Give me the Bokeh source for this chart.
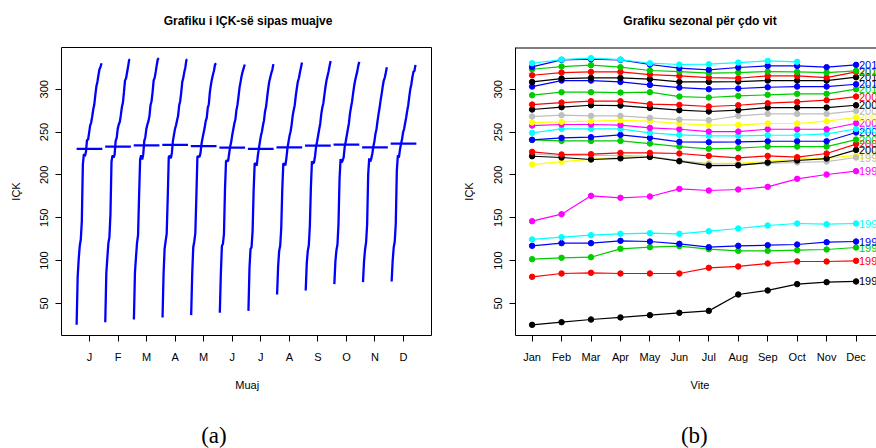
import math
from bokeh.plotting import figure
from bokeh.layouts import row, column
from bokeh.models import FixedTicker, Range1d, Span, ColumnDataSource
from bokeh.embed import file_html
from bokeh.resources import INLINE
from bokeh.core.properties import value

# ---------------- data (IÇK, monthly, 1992 - Oct 2016) ----------------
month_names = ["Jan", "Feb", "Mar", "Apr", "May", "Jun", "Jul", "Aug", "Sep", "Oct", "Nov", "Dec"]
month_letters = ["J", "F", "M", "A", "M", "J", "J", "A", "S", "O", "N", "D"]
years = list(range(1992, 2017))

cpi_1992 = [25.1, 28.2, 31.3, 33.7, 36.4, 39.1, 41.4, 60.5, 65.2, 72.6, 74.9, 75.7]
cpi_1993 = [81.1, 85.0, 85.8, 85.0, 85.0, 85.0, 91.6, 93.2, 96.7, 99.0, 99.0, 99.8]
cpi_1994 = [101.7, 103.3, 104.0, 113.8, 115.7, 116.9, 113.4, 111.4, 111.4, 112.2, 113.0, 115.3]
cpi_1995 = [117.3, 120.4, 120.4, 123.1, 122.3, 119.6, 115.7, 117.3, 118.0, 118.8, 121.5, 122.3]
cpi_1996 = [124.7, 127.4, 129.7, 131.3, 132.0, 131.3, 134.4, 137.5, 141.0, 143.3, 142.5, 143.3]
cpi_1997 = [146.0, 154.2, 175.6, 173.3, 174.8, 183.7, 181.8, 183.0, 186.1, 195.4, 200.5, 204.4]
cpi_1998 = [212.1, 215.4, 218.1, 220.9, 221.3, 216.2, 213.5, 213.5, 215.8, 218.4, 219.3, 222.8]
cpi_1999 = [224.4, 222.8, 223.0, 222.4, 221.7, 216.8, 212.9, 212.5, 213.3, 214.5, 215.6, 220.3]
cpi_2000 = [221.8, 220.3, 218.0, 219.3, 220.9, 216.0, 210.8, 211.2, 214.5, 216.8, 219.1, 229.2]
cpi_2001 = [226.9, 223.8, 224.2, 225.7, 225.7, 225.0, 222.2, 219.9, 222.2, 220.7, 225.0, 236.0]
cpi_2002 = [240.9, 239.7, 239.7, 239.7, 236.6, 233.1, 230.4, 231.2, 233.1, 233.1, 233.1, 241.2]
cpi_2003 = [240.9, 243.2, 244.0, 246.7, 243.2, 238.6, 238.2, 238.6, 239.3, 239.3, 239.3, 249.5]
cpi_2004 = [249.1, 253.7, 253.7, 253.7, 249.1, 246.7, 245.6, 245.6, 246.3, 246.3, 247.9, 253.6]
cpi_2005 = [257.6, 258.8, 258.8, 258.0, 254.9, 253.3, 250.6, 250.6, 253.3, 253.3, 253.3, 260.3]
cpi_2006 = [261.1, 261.9, 262.7, 263.8, 262.7, 260.0, 258.0, 258.4, 260.0, 260.0, 262.7, 267.0]
cpi_2007 = [268.1, 269.7, 268.9, 268.9, 266.6, 264.6, 263.8, 268.9, 271.2, 271.2, 271.2, 274.7]
cpi_2008 = [276.3, 279.0, 281.3, 280.9, 278.2, 275.5, 274.0, 275.5, 278.6, 278.6, 278.6, 281.3]
cpi_2009 = [282.1, 284.4, 286.0, 286.0, 282.5, 281.7, 279.8, 281.3, 283.7, 285.2, 287.2, 291.4]
cpi_2010 = [293.0, 296.5, 296.5, 296.1, 296.5, 291.4, 290.3, 292.2, 293.4, 294.6, 294.6, 300.0]
cpi_2011 = [303.1, 310.1, 310.1, 308.5, 305.0, 301.9, 300.0, 300.8, 302.3, 303.1, 303.1, 305.8]
cpi_2012 = [308.5, 312.4, 313.2, 313.2, 311.7, 308.5, 308.5, 308.9, 310.1, 310.1, 310.1, 314.0]
cpi_2013 = [316.3, 319.4, 320.2, 320.2, 317.1, 315.5, 313.6, 312.8, 315.5, 315.5, 313.6, 320.2]
cpi_2014 = [323.3, 326.4, 328.0, 325.7, 321.8, 320.6, 318.7, 319.4, 320.6, 320.2, 319.4, 321.4]
cpi_2015 = [326.0, 334.2, 335.0, 334.2, 328.8, 324.5, 322.6, 325.3, 327.2, 327.2, 325.7, 328.4]
cpi_2016 = [330.3, 334.6, 336.2, 334.6, 330.3, 328.8, 329.2, 331.1, 333.0, 331.9]

y_ticks = [50, 100, 150, 200, 250, 300]

titles = ["Grafiku i IÇK-së sipas muajve", "Grafiku sezonal për çdo vit"]
xlabels = ["Muaj", "Vite"]
tags = ["(a)", "(b)"]

# R default palette, colours cycled as col = 1:20
palette = ["#000000", "#FF0000", "#00CD00", "#0000FF", "#00FFFF", "#FF00FF", "#FFFF00", "#BEBEBE"]

series = [cpi_1992, cpi_1993, cpi_1994, cpi_1995, cpi_1996, cpi_1997, cpi_1998, cpi_1999,
          cpi_2000, cpi_2001, cpi_2002, cpi_2003, cpi_2004, cpi_2005, cpi_2006, cpi_2007,
          cpi_2008, cpi_2009, cpi_2010, cpi_2011, cpi_2012, cpi_2013, cpi_2014, cpi_2015, cpi_2016]
colors = [palette[(k % 20) % 8] for k in range(len(series))]

FONT = "Liberation Sans"
SERIF = "Liberation Serif"

allv = [v for s in series for v in s]
lo, hi = min(allv), max(allv)
pad = 0.04 * (hi - lo)
ylo, yhi = lo - pad, hi + pad

# ---------------- layout geometry (px) ----------------
W = 876
TOP_H = 47            # title strip
MID_H = 325           # plots (frame 288 + axis area)
BOT_H = 448 - TOP_H - MID_H
FR_H = 288
LW, RW = 440, 436
L_LEFT, L_FW = 61, 370
R_LEFT = 75
R_FW = RW - R_LEFT

lxlo, lxhi = -0.48, 12.48
rxlo = 0.9 - 0.04 * 11.6
r_px_per_unit = 29.45
rxhi = rxlo + R_FW / r_px_per_unit


def strip(height, y_top):
    p = figure(width=W, height=height, output_backend="svg", toolbar_location=None,
               x_range=Range1d(0, W), y_range=Range1d(y_top + height, y_top),
               x_axis_location=None, y_axis_location=None, title=None,
               min_border=0, min_border_left=0, min_border_right=0,
               min_border_top=0, min_border_bottom=0)
    p.outline_line_color = None
    p.background_fill_color = "white"
    p.border_fill_color = "white"
    p.grid.visible = False
    return p


def style_axis(ax, standoff):
    ax.major_tick_in = 0
    ax.major_tick_out = 6
    ax.major_tick_line_color = "black"
    ax.minor_tick_line_color = None
    ax.major_label_text_font = FONT
    ax.major_label_text_font_size = "11px"
    ax.major_label_text_color = "black"
    ax.major_label_standoff = standoff


def style_ylabel(ax, standoff):
    ax.axis_label = "IÇK"
    ax.axis_label_text_font = FONT
    ax.axis_label_text_font_size = "11px"
    ax.axis_label_text_font_style = "normal"
    ax.axis_label_text_color = "black"
    ax.axis_label_standoff = standoff


# ---------------- title strip ----------------
top = strip(TOP_H, 0)
top.text(x=[247.5, 699.5], y=[20.7, 20.7], text=titles, text_align="center",
         text_baseline="middle", text_font=value(FONT), text_font_size="12px",
         text_font_style="bold", text_color="black")

# ---------------- left: monthplot ----------------
pL = figure(width=LW, height=MID_H, output_backend="svg", toolbar_location=None, title=None,
            x_range=Range1d(lxlo, lxhi), y_range=Range1d(ylo, yhi),
            min_border_left=L_LEFT, min_border_right=LW - L_LEFT - L_FW,
            min_border_top=0, min_border_bottom=MID_H - FR_H)
pL.grid.visible = False
pL.outline_line_color = "black"
pL.outline_line_width = 1
pL.background_fill_color = "white"
pL.border_fill_color = "white"

N = sum(len(s) for s in series)
for m in range(12):
    xs, ys = [], []
    for k, s in enumerate(series):
        if m < len(s):
            t = k * 12 + m
            xs.append(m + 0.05 + 0.9 * t / (N - 1))
            ys.append(s[m])
    pL.line(xs, ys, line_color="#0000FF", line_width=2.3)
    base = sum(ys) / len(ys)
    pL.segment(x0=[m + 0.05], y0=[base], x1=[m + 0.95], y1=[base],
               line_color="#0000FF", line_width=2.3)

pL.xaxis.ticker = FixedTicker(ticks=[m + 0.5 for m in range(12)])
pL.xaxis.major_label_overrides = {m + 0.5: month_letters[m] for m in range(12)}
pL.yaxis.ticker = FixedTicker(ticks=y_ticks)
pL.yaxis.major_label_orientation = "vertical"
pL.xaxis.axis_line_color = None
pL.yaxis.axis_line_color = None
style_axis(pL.xaxis[0], 9)
style_axis(pL.yaxis[0], 7)
style_ylabel(pL.yaxis[0], 16)

# ---------------- right: seasonal plot ----------------
pR = figure(width=RW, height=MID_H, output_backend="svg", toolbar_location=None, title=None,
            x_range=Range1d(rxlo, rxhi), y_range=Range1d(ylo, yhi),
            min_border_left=R_LEFT, min_border_right=0,
            min_border_top=0, min_border_bottom=MID_H - FR_H)
pR.grid.visible = False
pR.outline_line_color = None
pR.background_fill_color = "white"
pR.border_fill_color = "white"

for k, s in enumerate(series):
    src = ColumnDataSource(dict(x=list(range(1, len(s) + 1)), y=s))
    pR.line("x", "y", source=src, line_color=colors[k], line_width=1.2)
    pR.scatter("x", "y", source=src, size=5.5, fill_color=colors[k], line_color=colors[k])

lab_x, lab_y, lab_t, lab_c = [], [], [], []
for k, s in enumerate(series):
    if len(s) == 12:
        lab_x.append(12 + 0.1)
        lab_y.append(s[11])
        lab_t.append(str(years[k]))
        lab_c.append(colors[k])
pR.text(x=lab_x, y=lab_y, text=lab_t, text_color=lab_c, text_align="left",
        text_baseline="middle", text_font=value(FONT), text_font_size="11px")

pR.add_layout(Span(location=yhi, dimension="width", line_color="black", line_width=2))

pR.xaxis.ticker = FixedTicker(ticks=list(range(1, 13)))
pR.xaxis.major_label_overrides = {m + 1: month_names[m] for m in range(12)}
pR.yaxis.ticker = FixedTicker(ticks=y_ticks)
pR.yaxis.major_label_orientation = "vertical"
pR.xaxis.axis_line_color = "black"
pR.yaxis.axis_line_color = "black"
style_axis(pR.xaxis[0], 9)
style_axis(pR.yaxis[0], 7)
style_ylabel(pR.yaxis[0], 17)

# ---------------- bottom strip ----------------
y0 = TOP_H + MID_H
bot = strip(BOT_H, y0)
bot.text(x=[246.7, 699.5], y=[384, 384], text=xlabels, text_align="center",
         text_baseline="middle", text_font=value(FONT), text_font_size="11px",
         text_color="black")
bot.text(x=[213.4, 693.8], y=[435, 435], text=tags, text_align="center",
         text_baseline="middle", text_font=value(SERIF), text_font_size="23px",
         text_color="black")

layout = column(top, row(pL, pR), bot)
open("out.html", "w").write(file_html(layout, INLINE))
